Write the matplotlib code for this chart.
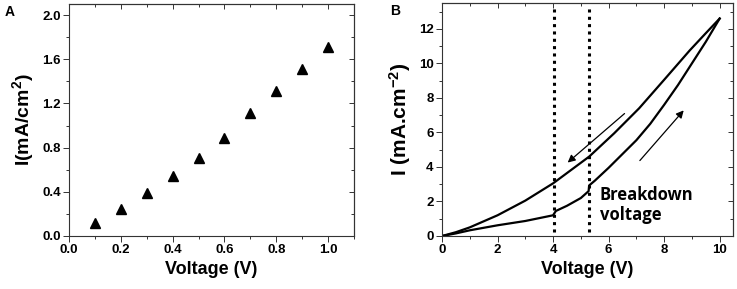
import numpy as np
import matplotlib.pyplot as plt
from matplotlib.ticker import MultipleLocator

plt.rcParams['font.family'] = 'Liberation Sans'
plt.rcParams['font.weight'] = 'bold'
plt.rcParams['axes.labelweight'] = 'bold'
plt.rcParams['mathtext.fontset'] = 'custom'
plt.rcParams['mathtext.rm'] = 'Liberation Sans:bold'
plt.rcParams['mathtext.default'] = 'rm'

# panel A: current density vs voltage
volt_a = [0.1, 0.2, 0.3, 0.4, 0.5, 0.6, 0.7, 0.8, 0.9, 1.0]
curr_a = [0.12, 0.24, 0.39, 0.54, 0.71, 0.89, 1.11, 1.31, 1.51, 1.71]

# panel B: forward sweep (lower branch) and backward sweep (upper branch)
volt_up = [0, 0.5, 1, 2, 3, 4.0, 4.1, 4.5, 5.0, 5.28, 5.3, 5.5, 6, 6.5, 7, 7.5, 8, 8.5, 9, 9.5, 10]
curr_up = [0, 0.15, 0.33, 0.62, 0.87, 1.2, 1.45, 1.75, 2.2, 2.6, 2.93, 3.2, 3.95, 4.75, 5.55, 6.5, 7.6, 8.75, 10.0, 11.25, 12.6]
volt_down = [10, 9.5, 8.92, 8, 7.1, 6.2, 5.3, 4.0, 3, 2, 1, 0.5, 0]
curr_down = [12.6, 11.75, 10.75, 9.05, 7.4, 5.95, 4.6, 3.05, 2.05, 1.2, 0.5, 0.22, 0]
breakdown = [4.03, 5.3]

W, H = 737, 289
fig = plt.figure(figsize=(W / 100, H / 100), dpi=100)

def style(ax):
    for s in ax.spines.values():
        s.set_linewidth(0.8)
        s.set_color('#333333')
    ax.tick_params(which='both', labelsize=9.5, width=0.7, color='#333333', pad=2)
    ax.tick_params(which='major', length=4, direction='out')
    ax.tick_params(which='minor', length=2.5, direction='out')
    # mirrored inward ticks on top and right
    sec_x = ax.secondary_xaxis('top')
    sec_x.xaxis.set_major_locator(ax.xaxis.get_major_locator())
    sec_x.xaxis.set_minor_locator(ax.xaxis.get_minor_locator())
    sec_x.tick_params(which='both', direction='in', labeltop=False, width=0.7, color='#333333')
    sec_x.tick_params(which='major', length=3.5)
    sec_x.tick_params(which='minor', length=2)
    sec_x.spines['top'].set_linewidth(0.8)
    sec_x.spines['top'].set_color('#333333')
    sec_y = ax.secondary_yaxis('right')
    sec_y.yaxis.set_major_locator(ax.yaxis.get_major_locator())
    sec_y.yaxis.set_minor_locator(ax.yaxis.get_minor_locator())
    sec_y.tick_params(which='both', direction='in', labelright=False, width=0.7, color='#333333')
    sec_y.tick_params(which='major', length=3.5)
    sec_y.tick_params(which='minor', length=2)
    sec_y.spines['right'].set_linewidth(0.8)
    sec_y.spines['right'].set_color('#333333')

# ---- panel A
axA = fig.add_axes([69 / W, 1 - 236 / H, (354 - 69) / W, (236 - 4) / H])
axA.plot(volt_a, curr_a, '^', color='black', ms=7.5, mec='black')
axA.set_xlim(0, 1.1)
axA.set_ylim(0, 2.1)
axA.set_xticks(np.arange(0, 1.01, 0.2))
axA.set_xticklabels(['%.1f' % v for v in np.arange(0, 1.01, 0.2)], fontweight='bold')
axA.set_yticks(np.arange(0, 2.01, 0.4))
axA.set_yticklabels(['%.1f' % v for v in np.arange(0, 2.01, 0.4)], fontweight='bold')
axA.xaxis.set_minor_locator(MultipleLocator(0.1))
axA.yaxis.set_minor_locator(MultipleLocator(0.2))
style(axA)
axA.set_xlabel('Voltage (V)', fontsize=13, fontweight='bold', labelpad=3)
axA.set_ylabel('I(mA/cm$^2$)', fontsize=14, fontweight='bold', labelpad=4)

# ---- panel B
axB = fig.add_axes([442 / W, 1 - 236 / H, (733 - 442) / W, (236 - 3) / H])
axB.plot(volt_up, curr_up, color='black', lw=1.6)
axB.plot(volt_down, curr_down, color='black', lw=1.6)
axB.vlines(breakdown, 0.25, 13.35, colors='black', lw=2.2, linestyles=[(0, (1, 1.4))])
axB.annotate('', xy=(4.45, 4.15), xytext=(6.65, 7.2),
             arrowprops=dict(arrowstyle='-|>', color='black', lw=0.9, mutation_scale=11))
axB.annotate('', xy=(8.77, 7.4), xytext=(7.06, 4.25),
             arrowprops=dict(arrowstyle='-|>', color='black', lw=0.9, mutation_scale=11))
axB.text(5.68, 1.8, 'Breakdown\nvoltage', fontsize=12, fontweight='bold',
         family='Open Sans', va='center', ha='left', linespacing=1.2)
axB.set_xlim(0, 10.48)
axB.set_ylim(0, 13.5)
axB.set_xticks(range(0, 11, 2))
axB.set_xticklabels([str(v) for v in range(0, 11, 2)], fontweight='bold')
axB.set_yticks(range(0, 13, 2))
axB.set_yticklabels([str(v) for v in range(0, 13, 2)], fontweight='bold')
axB.xaxis.set_minor_locator(MultipleLocator(1))
axB.yaxis.set_minor_locator(MultipleLocator(1))
style(axB)
axB.set_xlabel('Voltage (V)', fontsize=13, fontweight='bold', labelpad=3)
axB.set_ylabel('I (mA.cm$^{-2}$)', fontsize=15, fontweight='bold', labelpad=4)

fig.text(10 / W, 1 - 12 / H, 'A', fontsize=10, fontweight='bold', ha='center', va='center')
fig.text(395 / W, 1 - 11 / H, 'B', fontsize=10, fontweight='bold', ha='center', va='center')

fig.savefig('out.png', dpi=100)
